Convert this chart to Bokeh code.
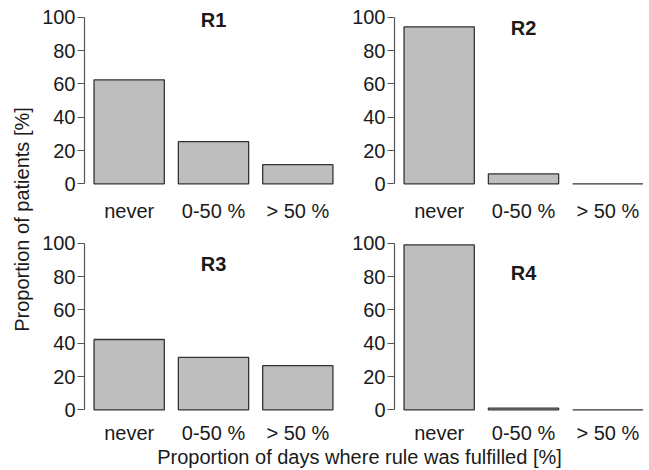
import math
from bokeh.plotting import figure
from bokeh.layouts import row, column
from bokeh.models import Range1d, FixedTicker, ColumnDataSource
from bokeh.core.properties import value
from bokeh.embed import file_html
from bokeh.resources import INLINE

# ---------------- data ----------------
categories = ["never", "0-50 %", "> 50 %"]
panel_titles = ["R1", "R2", "R3", "R4"]
r1_values = [62.4, 25.3, 11.5]
r2_values = [94.2, 6.0, 0.0]
r3_values = [42.2, 31.5, 26.5]
r4_values = [99.0, 1.0, 0.0]
y_ticks = [0, 20, 40, 60, 80, 100]
title_y = [98.6, 93.6, 87.7, 81.9]
y_label = "Proportion of patients [%]"
x_label = "Proportion of days where rule was fulfilled [%]"

# ---------------- style ----------------
FONT = "Liberation Sans"
TEXT = "#1a1a1a"
AXIS = "#555555"
BAR_FILL = "#bebebe"
BAR_LINE = "#333333"
FS = "20px"

bar_width = 1.0
bar_space = 0.2
centers = [round(bar_space + bar_width / 2 + i * (bar_width + bar_space), 1)
           for i in range(len(categories))]
left_edge = bar_space
right_edge = len(categories) * (bar_width + bar_space)
pad = 0.04 * (right_edge - left_edge)
x_lo, x_hi = left_edge - pad, right_edge + pad
FRAME_W_LEFT = 258
FRAME_W_RIGHT = 254
px_per_unit = FRAME_W_LEFT / (x_hi - x_lo)
FRAME_H = 180


def panel(vals, title, ty, col, rowi):
    if col == 0:
        width, mbl, mbr = 46 + FRAME_W_LEFT + 3, 46, 3
        xr = Range1d(x_lo, x_hi)
    else:
        width, mbl, mbr = 49 + FRAME_W_RIGHT, 49, 0
        xr = Range1d(x_lo, x_lo + FRAME_W_RIGHT / px_per_unit)
    if rowi == 0:
        mbt, mbb, standoff = 10, 36, 9
    else:
        mbt, mbb, standoff = 10, 30, 5
    p = figure(width=width, height=mbt + FRAME_H + mbb, title=None,
               x_range=xr, y_range=Range1d(-4, 104),
               min_border_left=mbl, min_border_right=mbr,
               min_border_top=mbt, min_border_bottom=mbb,
               output_backend="svg", toolbar_location=None,
               background_fill_color="white", border_fill_color="white",
               outline_line_color=None)
    p.xgrid.visible = False
    p.ygrid.visible = False

    src = ColumnDataSource(dict(x=centers, top=vals))
    p.vbar(x="x", top="top", bottom=0, width=bar_width, source=src,
           fill_color=BAR_FILL, line_color=BAR_LINE, line_width=1.3)

    p.text(x=[centers[1]], y=[ty], text=[title],
           text_font=value(FONT), text_font_size=FS, text_font_style="bold",
           text_color=TEXT, text_align="center", text_baseline="middle")

    ya = p.yaxis[0]
    ya.bounds = (0, 100)
    ya.ticker = FixedTicker(ticks=y_ticks)
    ya.axis_line_color = AXIS
    ya.axis_line_width = 1.2
    ya.major_tick_line_color = AXIS
    ya.major_tick_line_width = 1.2
    ya.minor_tick_line_color = None
    ya.major_tick_out = 7
    ya.major_tick_in = 0
    ya.major_label_standoff = 2
    ya.major_label_text_font = FONT
    ya.major_label_text_font_size = FS
    ya.major_label_text_color = TEXT

    xa = p.xaxis[0]
    xa.ticker = FixedTicker(ticks=centers)
    xa.major_label_overrides = {c: lab for c, lab in zip(centers, categories)}
    xa.axis_line_color = None
    xa.major_tick_line_color = None
    xa.minor_tick_line_color = None
    xa.major_tick_out = 0
    xa.major_tick_in = 0
    xa.major_label_standoff = standoff
    xa.major_label_text_font = FONT
    xa.major_label_text_font_size = FS
    xa.major_label_text_color = TEXT
    return p


values = [r1_values, r2_values, r3_values, r4_values]
panels = [panel(values[i], panel_titles[i], title_y[i], i % 2, i // 2) for i in range(4)]

TOTAL_H = 469
GRID_W = panels[0].width + panels[1].width
YL_W = 38

ylab = figure(width=YL_W, height=TOTAL_H, title=None,
              x_range=Range1d(0, YL_W), y_range=Range1d(0, TOTAL_H),
              min_border=0, x_axis_type=None, y_axis_type=None,
              output_backend="svg", toolbar_location=None, outline_line_color=None)
ylab.text(x=[21], y=[TOTAL_H - 219], text=[y_label], angle=math.pi / 2,
          text_font=value(FONT), text_font_size=FS, text_color=TEXT,
          text_align="center", text_baseline="alphabetic")

XL_H = TOTAL_H - panels[0].height - panels[2].height
xlab = figure(width=GRID_W, height=XL_H, title=None,
              x_range=Range1d(0, GRID_W), y_range=Range1d(0, XL_H),
              min_border=0, x_axis_type=None, y_axis_type=None,
              output_backend="svg", toolbar_location=None, outline_line_color=None)
xlab.text(x=[359 - YL_W], y=[13], text=[x_label],
          text_font=value(FONT), text_font_size=FS, text_color=TEXT,
          text_align="center", text_baseline="alphabetic")

layout = row(ylab, column(row(panels[0], panels[1]), row(panels[2], panels[3]), xlab))

open("out.html", "w").write(file_html(layout, INLINE))
